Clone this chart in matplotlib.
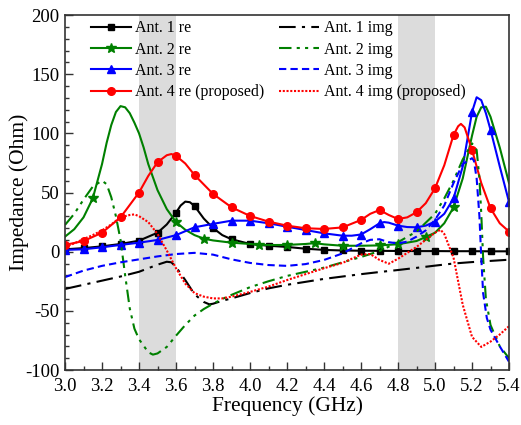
import numpy as np
import matplotlib
matplotlib.use("Agg")
import matplotlib.pyplot as plt
from matplotlib.ticker import MultipleLocator, FormatStrFormatter

plt.rcParams["font.family"] = ["Liberation Serif", "DejaVu Serif"]
plt.rcParams["axes.unicode_minus"] = False

# Ant. 1 - real part
f1_re = [3.0, 3.1, 3.2, 3.3, 3.4, 3.5, 3.55, 3.6, 3.625, 3.65, 3.675, 3.7, 3.75, 3.8,
         3.85, 3.9, 4.0, 4.1, 4.2, 4.3, 4.4, 4.5, 4.6, 4.7, 4.8, 4.9, 5.0, 5.1, 5.2, 5.3, 5.4]
z1_re = [2.0, 3.0, 4.5, 6.5, 9.3, 16.0, 23.0, 33.0, 39.0, 42.3, 41.8, 38.6, 28.0, 20.0,
         14.0, 10.5, 6.5, 5.0, 4.0, 2.5, 1.5, 1.0, 0.8, 0.7, 0.6, 0.5, 0.5, 0.4, 0.4, 0.3, 0.3]

# Ant. 2 - real part
f2_re = [3.0, 3.05, 3.1, 3.15, 3.2, 3.225, 3.25, 3.275, 3.3, 3.325, 3.35, 3.375, 3.4, 3.425,
         3.45, 3.5, 3.55, 3.6, 3.65, 3.7, 3.75, 3.8, 3.9, 4.0, 4.05, 4.1, 4.2, 4.3, 4.35,
         4.4, 4.5, 4.6, 4.7, 4.8, 4.9, 4.95, 5.0, 5.05, 5.1, 5.15, 5.2, 5.225, 5.25,
         5.275, 5.3, 5.35, 5.4]
z2_re = [12.7, 19.0, 29.0, 45.0, 74.0, 92.0, 107.0, 118.0, 123.0, 122.0, 117.0, 109.0, 100.0, 88.0,
         74.0, 52.0, 36.0, 25.0, 18.5, 14.0, 11.0, 9.5, 7.6, 6.5, 5.8, 5.6, 5.7, 6.5, 7.2,
         6.2, 5.0, 5.0, 5.3, 6.3, 9.0, 12.4, 16.0, 24.0, 37.4, 62.0, 98.0, 114.0, 122.0,
         122.5, 114.0, 88.0, 58.0]

# Ant. 3 - real part
f3_re = [3.0, 3.1, 3.2, 3.3, 3.4, 3.5, 3.6, 3.7, 3.8, 3.9, 4.0, 4.1, 4.2, 4.3, 4.4, 4.5,
         4.55, 4.6, 4.65, 4.7, 4.725, 4.75, 4.8, 4.85, 4.9, 4.95, 5.0, 5.05, 5.1, 5.15,
         5.175, 5.2, 5.225, 5.25, 5.275, 5.3, 5.35, 5.4]
z3_re = [1.5, 2.0, 3.7, 5.7, 7.6, 9.9, 14.0, 20.6, 23.5, 26.2, 26.2, 24.0, 21.1, 18.3, 15.5, 13.5,
         13.5, 14.5, 19.0, 24.0, 25.0, 24.5, 22.0, 20.8, 20.6, 22.0, 25.4, 32.0, 45.0, 72.0,
         95.0, 118.0, 130.5, 128.0, 117.0, 103.0, 72.0, 42.0]

# Ant. 4 (proposed) - real part
f4_re = [3.0, 3.1, 3.2, 3.3, 3.4, 3.45, 3.5, 3.55, 3.575, 3.6, 3.65, 3.7, 3.8, 3.9, 4.0,
         4.1, 4.2, 4.3, 4.4, 4.5, 4.6, 4.65, 4.7, 4.75, 4.8, 4.85, 4.9, 4.95, 5.0, 5.05,
         5.1, 5.125, 5.14, 5.16, 5.2, 5.25, 5.3, 5.35, 5.4]
z4_re = [5.7, 9.0, 16.0, 29.0, 50.0, 64.0, 75.6, 81.5, 82.5, 81.0, 74.5, 64.8, 48.8, 37.5, 30.2,
         25.4, 22.0, 19.8, 19.2, 20.5, 26.8, 32.0, 35.2, 31.0, 27.6, 29.0, 33.3, 41.0, 53.6, 73.0,
         98.6, 106.0, 108.0, 105.0, 86.0, 58.0, 36.7, 24.0, 17.0]

# Ant. 1 - imaginary part
f1_im = [3.0, 3.1, 3.2, 3.3, 3.4, 3.45, 3.5, 3.55, 3.575, 3.6, 3.65, 3.7, 3.75, 3.78, 3.8,
         3.85, 3.9, 4.0, 4.1, 4.2, 4.3, 4.4, 4.5, 4.6, 4.7, 4.8, 4.9, 5.0, 5.1, 5.2, 5.3, 5.4]
z1_im = [-31.5, -28.0, -24.5, -21.0, -17.0, -14.0, -11.0, -8.5, -9.0, -13.0, -24.0, -36.0, -42.5,
         -44.5, -44.0, -41.5, -39.5, -35.0, -31.0, -28.0, -25.5, -23.0, -21.0, -19.0, -17.2,
         -15.5, -13.7, -11.8, -10.0, -8.8, -7.8, -6.8]

# Ant. 2 - imaginary part
f2_im = [3.0, 3.05, 3.1, 3.15, 3.2, 3.225, 3.25, 3.275, 3.3, 3.325, 3.35, 3.375, 3.4, 3.45,
         3.475, 3.5, 3.55, 3.6, 3.65, 3.7, 3.75, 3.8, 3.85, 3.9, 4.0, 4.1, 4.2, 4.3, 4.4,
         4.5, 4.6, 4.7, 4.8, 4.9, 5.0, 5.05, 5.1, 5.15, 5.2, 5.225, 5.24, 5.25, 5.26,
         5.275, 5.3, 5.35, 5.4]
z2_im = [22.6, 32.0, 44.0, 55.0, 60.0, 57.0, 46.0, 30.0, 10.0, -20.0, -48.0, -65.0, -74.0, -85.0,
         -87.0, -86.0, -80.5, -71.0, -62.0, -54.0, -48.5, -44.0, -40.0, -36.5, -30.0, -25.0,
         -20.5, -17.0, -13.5, -9.0, -4.5, 0.5, 8.0, 17.0, 32.0, 45.0, 60.0, 78.0, 91.5, 86.0,
         62.0, 32.0, -5.0, -40.0, -62.0, -80.0, -90.0]

# Ant. 3 - imaginary part
f3_im = [3.0, 3.1, 3.2, 3.3, 3.4, 3.5, 3.6, 3.7, 3.8, 3.9, 4.0, 4.1, 4.2, 4.3, 4.4, 4.5,
         4.6, 4.65, 4.7, 4.75, 4.8, 4.85, 4.9, 4.95, 5.0, 5.05, 5.1, 5.15, 5.2, 5.21,
         5.225, 5.24, 5.25, 5.26, 5.28, 5.3, 5.35, 5.4]
z3_im = [-21.5, -16.0, -12.0, -9.0, -6.5, -4.0, -2.0, -1.0, -2.5, -6.5, -9.5, -11.3, -12.0, -10.5,
         -7.0, -1.5, 7.0, 10.0, 10.5, 8.0, 7.0, 8.5, 12.7, 18.0, 27.0, 39.0, 58.0, 74.0, 79.0,
         77.0, 62.0, 30.0, -5.0, -35.0, -56.0, -66.0, -80.0, -93.0]

# Ant. 4 (proposed) - imaginary part
f4_im = [3.0, 3.05, 3.1, 3.15, 3.2, 3.25, 3.3, 3.35, 3.375, 3.4, 3.45, 3.5, 3.55, 3.6, 3.65,
         3.7, 3.75, 3.8, 3.85, 3.9, 4.0, 4.1, 4.2, 4.3, 4.4, 4.5, 4.55, 4.6, 4.65, 4.7,
         4.75, 4.8, 4.85, 4.9, 4.95, 5.0, 5.03, 5.05, 5.1, 5.15, 5.2, 5.25, 5.3, 5.35, 5.4]
z4_im = [4.0, 7.0, 10.7, 14.0, 18.0, 23.0, 29.0, 31.0, 31.5, 30.0, 25.0, 15.0, 1.0, -14.0, -27.0,
         -35.0, -38.0, -39.5, -39.5, -38.0, -34.0, -29.5, -24.0, -19.0, -14.0, -9.5, -6.0,
         -2.5, -2.0, -7.0, -10.2, -6.0, -1.0, 4.0, 10.0, 16.0, 18.5, 15.0, -5.0, -45.0, -72.0,
         -80.5, -76.0, -70.0, -63.0]

# shaded operating bands (GHz)
bands = [(3.4, 3.6), (4.8, 5.0)]

marks_tenth = [round(3.0 + 0.1 * i, 2) for i in range(25)]
marks_star = [3.15, 3.6, 3.75, 3.9, 4.05, 4.2, 4.35, 4.5, 4.65, 4.8, 4.95, 5.1]


def mark_idx(freq, at):
    freq = np.asarray(freq)
    return [int(np.argmin(np.abs(freq - a))) for a in at]


fig = plt.figure(figsize=(5.21, 4.25), dpi=100)
ax = fig.add_axes([0.1248, 0.1294, 0.8522, 0.8353])

for lo, hi in bands:
    ax.axvspan(lo, hi, color="#dcdcdc", lw=0, zorder=0)

lw = 1.5
ax.plot(f1_re, z1_re, color="black", lw=lw, marker="s", ms=4.5,
        markevery=mark_idx(f1_re, marks_tenth), label="Ant. 1 re")
ax.plot(f2_re, z2_re, color="#008000", lw=lw, marker="*", ms=7,
        markevery=mark_idx(f2_re, marks_star), label="Ant. 2 re")
ax.plot(f3_re, z3_re, color="#0000ff", lw=lw, marker="^", ms=5.5,
        markevery=mark_idx(f3_re, marks_tenth), label="Ant. 3 re")
ax.plot(f4_re, z4_re, color="#ff0000", lw=lw, marker="o", ms=5.5,
        markevery=mark_idx(f4_re, marks_tenth), label="Ant. 4 re (proposed)")

ax.plot(f1_im, z1_im, color="black", lw=lw, dashes=(8, 3, 1.5, 3), label="Ant. 1 img")
ax.plot(f2_im, z2_im, color="#008000", lw=lw, dashes=(6, 2.5, 1.5, 2.5, 1.5, 2.5),
        label="Ant. 2 img")
ax.plot(f3_im, z3_im, color="#0000ff", lw=lw, dashes=(3.5, 2), label="Ant. 3 img")
ax.plot(f4_im, z4_im, color="#ff0000", lw=lw, dashes=(1, 0.8), label="Ant. 4 img (proposed)")

ax.set_xlim(3.0, 5.4)
ax.set_ylim(-100, 200)
ax.xaxis.set_major_locator(MultipleLocator(0.2))
ax.xaxis.set_minor_locator(MultipleLocator(0.1))
ax.xaxis.set_major_formatter(FormatStrFormatter("%.1f"))
ax.yaxis.set_major_locator(MultipleLocator(50))
ax.yaxis.set_minor_locator(MultipleLocator(10))
ax.tick_params(which="both", direction="in", top=False, right=False,
               labelsize=13.5, width=1.0, color="#333333")
ax.tick_params(which="major", length=6)
ax.tick_params(which="minor", length=3)
ax.tick_params(axis="x", which="major", pad=6)
ax.tick_params(axis="y", which="major", pad=4)
for sp in ax.spines.values():
    sp.set_color("#333333")
    sp.set_linewidth(1.2)

ax.set_xlabel("Frequency (GHz)", fontsize=15.5, labelpad=1)
ax.set_ylabel("Impedance (Ohm)", fontsize=15.5, labelpad=-3)

ax.legend(loc="upper left", bbox_to_anchor=(0.058, 0.985), ncol=2, frameon=False,
          fontsize=11.5, handlelength=2.5, handletextpad=0.3, labelspacing=0.33,
          columnspacing=0.9, borderpad=0, borderaxespad=0, numpoints=1)

fig.savefig("out.png", dpi=100)
